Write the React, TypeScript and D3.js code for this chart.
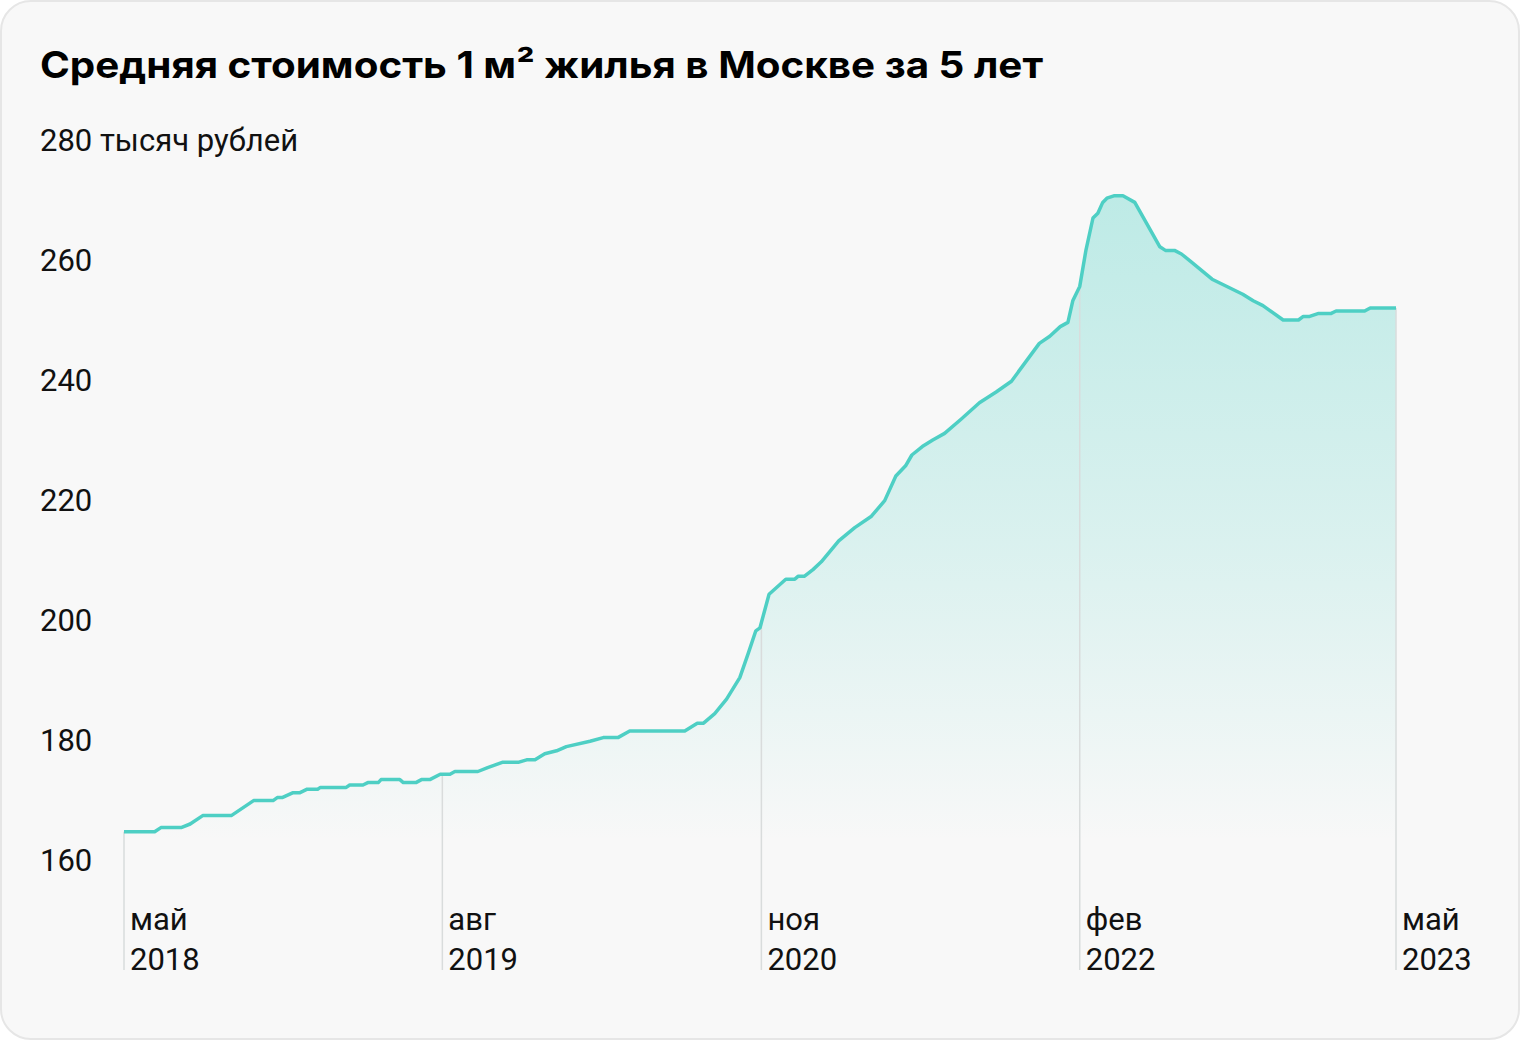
import React from "react";
import * as d3 from "d3";

const TITLE = "Средняя стоимость 1 м² жилья в Москве за 5 лет";
const UNIT_LABEL = "280 тысяч рублей";

const dates: string[] = [
  "2018-05-01", "2018-06-14", "2018-06-23", "2018-07-22", "2018-08-04", "2018-08-22", "2018-10-02", "2018-11-03",
  "2018-12-01", "2018-12-07", "2018-12-14", "2018-12-29", "2019-01-08", "2019-01-19", "2019-02-03", "2019-02-07",
  "2019-03-16", "2019-03-21", "2019-04-09", "2019-04-16", "2019-05-01", "2019-05-05", "2019-06-01", "2019-06-06",
  "2019-06-24", "2019-07-02", "2019-07-14", "2019-07-29", "2019-08-12", "2019-08-19", "2019-09-21", "2019-10-05",
  "2019-10-27", "2019-11-19", "2019-11-30", "2019-12-12", "2019-12-26", "2020-01-12", "2020-01-26", "2020-02-29",
  "2020-03-19", "2020-04-09", "2020-04-26", "2020-07-14", "2020-08-01", "2020-08-10", "2020-08-26", "2020-09-12",
  "2020-10-01", "2020-10-13", "2020-10-24", "2020-10-30", "2020-11-12", "2020-12-06", "2020-12-19", "2020-12-24",
  "2021-01-02", "2021-01-14", "2021-01-26", "2021-02-20", "2021-03-15", "2021-04-08", "2021-04-27", "2021-05-13",
  "2021-05-27", "2021-06-05", "2021-06-20", "2021-07-05", "2021-07-22", "2021-08-15", "2021-09-10", "2021-10-04",
  "2021-10-26", "2021-12-05", "2021-12-20", "2022-01-04", "2022-01-15", "2022-01-22", "2022-02-01", "2022-02-10",
  "2022-02-20", "2022-02-27", "2022-03-06", "2022-03-12", "2022-03-22", "2022-04-04", "2022-04-21", "2022-05-08",
  "2022-05-27", "2022-06-04", "2022-06-17", "2022-06-27", "2022-07-11", "2022-08-10", "2022-09-23", "2022-10-08",
  "2022-10-22", "2022-11-20", "2022-12-12", "2022-12-19", "2022-12-28", "2023-01-10", "2023-01-28", "2023-02-04",
  "2023-03-17", "2023-03-25", "2023-05-01",
];

const prices: number[] = [
  164.7, 164.7, 165.4, 165.4, 166.0, 167.4, 167.4, 169.9,
  169.9, 170.4, 170.4, 171.2, 171.2, 171.8, 171.8, 172.1,
  172.1, 172.5, 172.5, 172.9, 172.9, 173.4, 173.4, 172.9,
  172.9, 173.4, 173.4, 174.3, 174.3, 174.75, 174.75, 175.4,
  176.3, 176.3, 176.7, 176.7, 177.7, 178.2, 178.9, 179.8,
  180.4, 180.4, 181.5, 181.5, 182.8, 182.8, 184.4, 186.8,
  190.4, 194.4, 198.2, 198.7, 204.3, 206.8, 206.8, 207.3,
  207.3, 208.4, 209.7, 213.2, 215.4, 217.3, 219.9, 224.0,
  225.7, 227.5, 228.9, 230.0, 231.1, 233.5, 236.2, 238.0,
  239.8, 246.1, 247.3, 248.9, 249.6, 253.2, 255.6, 261.7,
  267.0, 267.8, 269.6, 270.3, 270.7, 270.7, 269.6, 266.1,
  262.2, 261.6, 261.6, 261.0, 259.7, 256.8, 254.3, 253.2,
  252.4, 250.0, 250.0, 250.6, 250.6, 251.1, 251.1, 251.5,
  251.5, 252.0, 252.0,
];

const yTicks: number[] = [160, 180, 200, 220, 240, 260];
const xTickDates: string[] = ["2018-05-01", "2019-08-01", "2020-11-01", "2022-02-01", "2023-05-01"];
const xTickMonths: string[] = ["май", "авг", "ноя", "фев", "май"];
const xTickYears: string[] = ["2018", "2019", "2020", "2022", "2023"];

const W = 1520;
const H = 1040;
const FONT = "Roboto, 'Liberation Sans', sans-serif";

export default function App() {
  const parse = d3.utcParse("%Y-%m-%d");
  const data = dates.map((d, i) => ({ date: parse(d) as Date, value: prices[i] }));

  const x = d3
    .scaleUtc()
    .domain([parse("2018-05-01") as Date, parse("2023-05-01") as Date])
    .range([124, 1396]);
  const y = d3.scaleLinear().domain([160, 280]).range([860, 140]);

  const line = d3
    .line<{ date: Date; value: number }>()
    .x((d) => x(d.date))
    .y((d) => y(d.value));
  const area = d3
    .area<{ date: Date; value: number }>()
    .x((d) => x(d.date))
    .y0(y(160))
    .y1((d) => y(d.value));

  const bis = d3.bisector((d: { date: Date }) => d.date).left;
  const valueAt = (dt: Date) => {
    const i = bis(data, dt);
    if (i <= 0) return data[0].value;
    if (i >= data.length) return data[data.length - 1].value;
    const a = data[i - 1];
    const b = data[i];
    const t = (+dt - +a.date) / (+b.date - +a.date);
    return a.value + (b.value - a.value) * t;
  };

  return (
    <svg
      width={W}
      height={H}
      style={{ position: "absolute", left: 0, top: 0, background: "#ffffff" }}
    >
      <defs>
        <linearGradient id="fillGrad" gradientUnits="userSpaceOnUse" x1={0} x2={0} y1={y(272)} y2={y(163)}>
          <stop offset="0%" stopColor="#3fcdbf" stopOpacity={0.32} />
          <stop offset="55%" stopColor="#3fcdbf" stopOpacity={0.16} />
          <stop offset="100%" stopColor="#3fcdbf" stopOpacity={0} />
        </linearGradient>
      </defs>
      <rect x={1} y={1} width={W - 2} height={H - 2} rx={30} ry={30} fill="#f8f8f8" stroke="#e6e6e6" strokeWidth={2} />

      <text
        x={40}
        y={78}
        fontFamily="Inter, 'Liberation Sans', Arial, sans-serif"
        fontWeight={700}
        fontSize={37}
        fill="#000"
        textLength={1003}
        lengthAdjust="spacingAndGlyphs"
      >
        {TITLE}
      </text>

      <path d={area(data) || ""} fill="url(#fillGrad)" />

      {xTickDates.map((d, i) => {
        const dt = parse(d) as Date;
        const xx = x(dt);
        return (
          <g key={d}>
            <line x1={xx} x2={xx} y1={y(valueAt(dt))} y2={970} stroke="#d9dcdc" strokeWidth={1.5} />
            <text x={xx + 6} y={930} fontFamily={FONT} fontSize={31} fill="#111">
              {xTickMonths[i]}
            </text>
            <text x={xx + 6} y={970} fontFamily={FONT} fontSize={31} fill="#111">
              {xTickYears[i]}
            </text>
          </g>
        );
      })}

      <path d={line(data) || ""} fill="none" stroke="#4ecfc4" strokeWidth={3.5} strokeLinejoin="round" />

      {yTicks.map((t) => (
        <text key={t} x={40} y={y(t) + 11} fontFamily={FONT} fontSize={31} fill="#111">
          {t}
        </text>
      ))}
      <text x={40} y={y(280) + 11} fontFamily={FONT} fontSize={31} fill="#111">
        {UNIT_LABEL}
      </text>
    </svg>
  );
}
